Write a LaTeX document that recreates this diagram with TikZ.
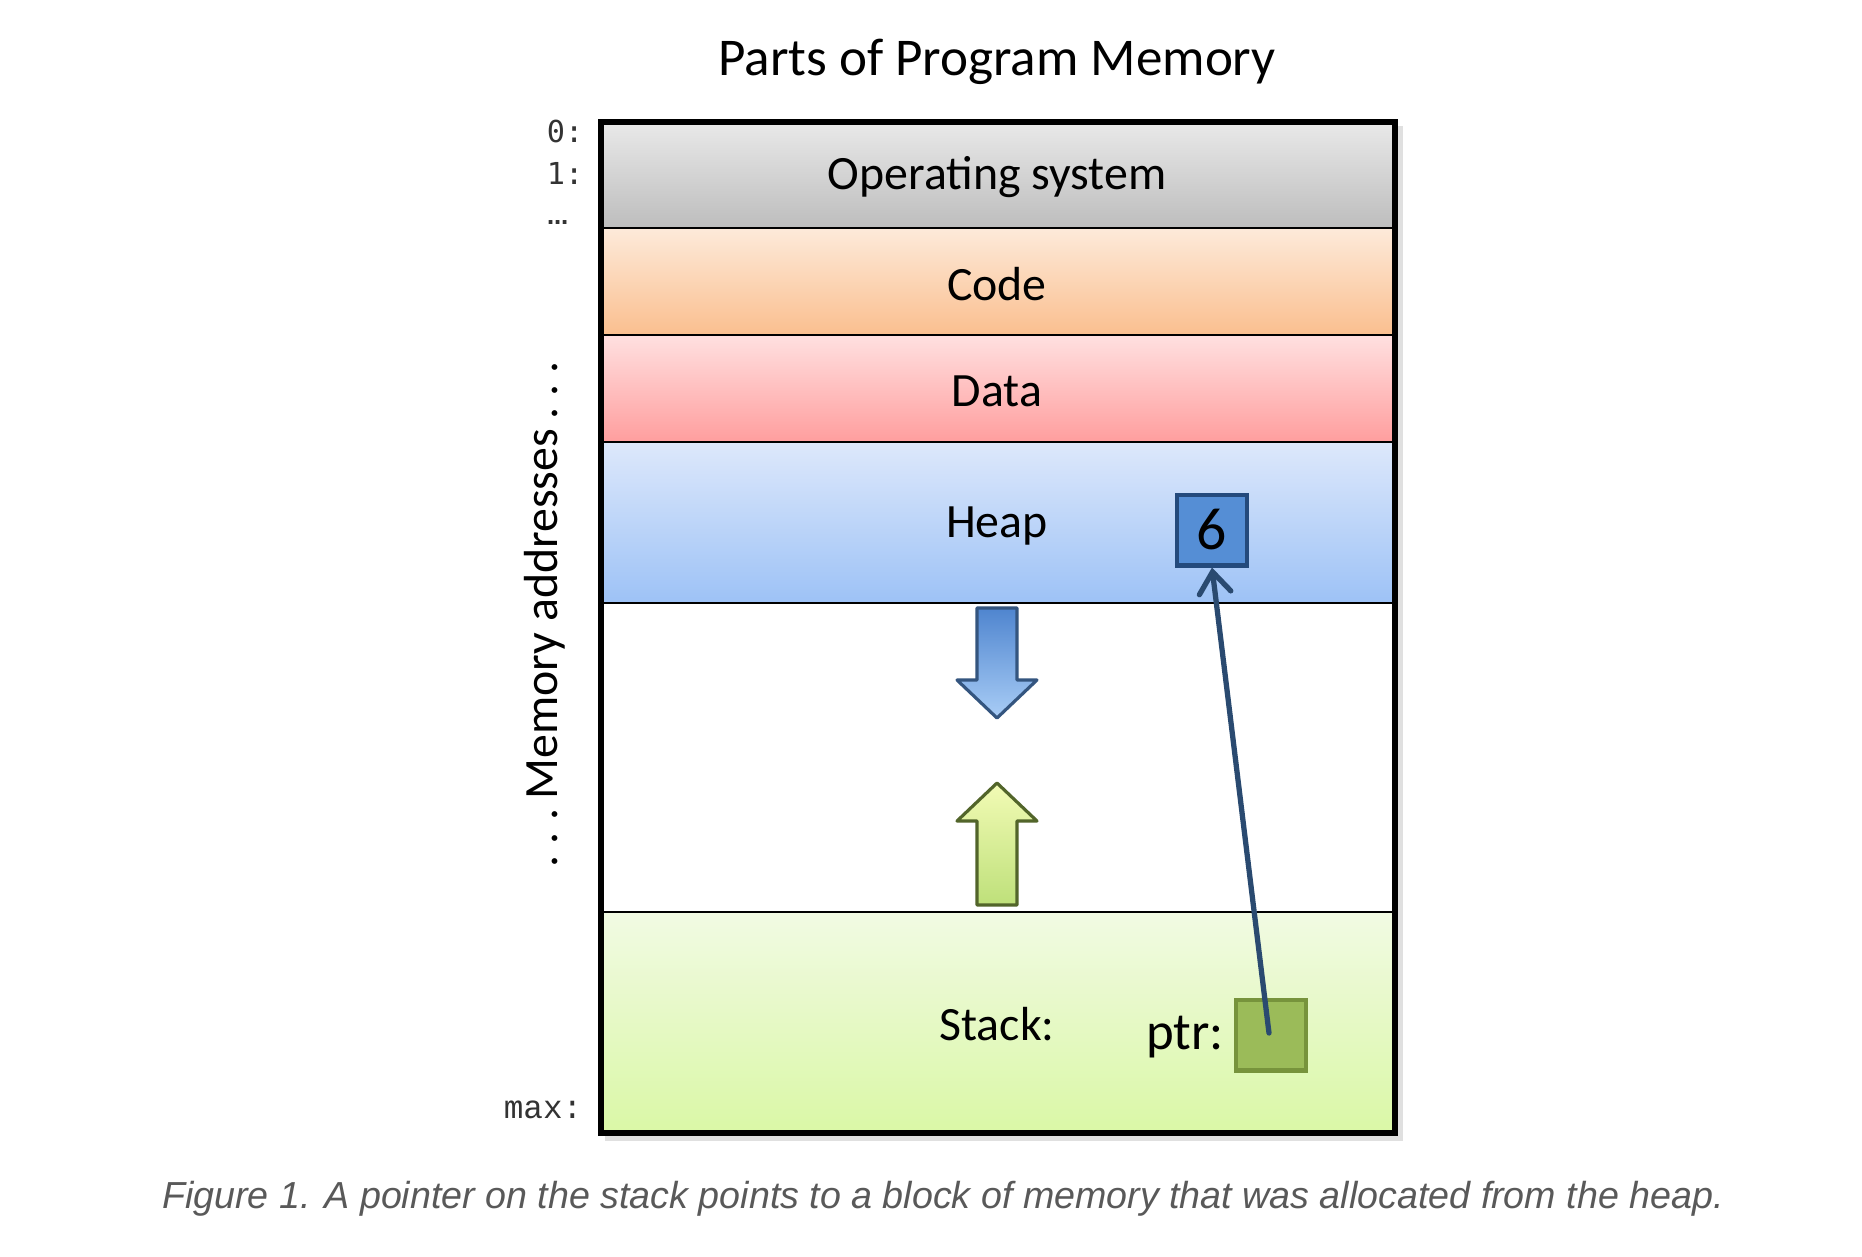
\documentclass[tikz,border=0pt]{standalone}
\usepackage{fontspec}
\setmainfont{Carlito}
\newfontfamily\monofont{Liberation Mono}
\newfontfamily\dvmono{DejaVu Sans Mono}
\newfontfamily\dvsans{DejaVu Sans}
\newfontfamily\capfont{Liberation Sans}
\usetikzlibrary{arrows.meta}
\definecolor{osTop}{HTML}{E9E9E9}
\definecolor{osBot}{HTML}{BDBDBD}
\definecolor{codeTop}{HTML}{FDEADA}
\definecolor{codeBot}{HTML}{FABF8F}
\definecolor{dataTop}{HTML}{FFE0E0}
\definecolor{dataBot}{HTML}{FF9E9E}
\definecolor{heapTop}{HTML}{DDE8FB}
\definecolor{heapBot}{HTML}{9DC2F6}
\definecolor{stackTop}{HTML}{F1FAE3}
\definecolor{stackBot}{HTML}{DAF8A6}
\definecolor{sixFill}{HTML}{558ED5}
\definecolor{sixBorder}{HTML}{244A7C}
\definecolor{ptrFill}{HTML}{9BBB59}
\definecolor{ptrBorder}{HTML}{77933C}
\definecolor{linkCol}{HTML}{2A4A70}
\definecolor{dTop}{HTML}{4F85CF}
\definecolor{dBot}{HTML}{A9CDF6}
\definecolor{dBorder}{HTML}{34557F}
\definecolor{uTop}{HTML}{F2FBB5}
\definecolor{uBot}{HTML}{BEE07A}
\definecolor{uBorder}{HTML}{52652A}
\definecolor{capCol}{HTML}{595959}
\newcommand{\dsp}{\hspace{0.23em}}
\tikzset{
  divider/.style={line width=0.6pt, black},
  seglabel/.style={font=\fontsize{13.6}{16}\selectfont, inner sep=0pt},
  addr/.style={font=\dvmono\fontsize{8.6}{10}\selectfont, inner sep=0pt, text=black!80, anchor=east},
  cell/.style={minimum width=0.70cm, minimum height=0.70cm, inner sep=0pt, line width=1.4pt}
}
\begin{document}
\begin{tikzpicture}[x=0.01cm, y=-0.01cm]
\useasboundingbox (0,0) rectangle (1862,1256);
% title
\node[font=\fontsize{15.1}{18}\selectfont, inner sep=0pt] (title) at (997,62) {Parts of Program Memory};
% segments
\shade[top color=osTop, bottom color=osBot] (601,122) rectangle (1395,228);
\shade[top color=codeTop, bottom color=codeBot] (601,228) rectangle (1395,335);
\shade[top color=dataTop, bottom color=dataBot] (601,335) rectangle (1395,442);
\shade[top color=heapTop, bottom color=heapBot] (601,442) rectangle (1395,603);
\fill[white] (601,603) rectangle (1395,912);
\shade[top color=stackTop, bottom color=stackBot] (601,912) rectangle (1395,1133);
% shadow hint
\draw[black!12, line width=2pt] (605,1137) -- (1399,1137) -- (1399,126);
\draw[divider] (601,228) -- (1395,228);
\draw[divider] (601,335) -- (1395,335);
\draw[divider] (601,442) -- (1395,442);
\draw[divider] (601,603) -- (1395,603);
\draw[divider] (601,912) -- (1395,912);
\draw[line width=1.45pt] (601,122) rectangle (1395,1133);
% labels
\node[seglabel] (os) at (997,177) {Operating system};
\node[seglabel] (code) at (997,284) {Code};
\node[seglabel] (data) at (997,391) {Data};
\node[seglabel] (heap) at (997,526) {Heap};
\node[seglabel] (stack) at (997,1024) {Stack:};
\node[seglabel, font=\fontsize{15}{17}\selectfont] (ptrlab) at (1185,1037) {ptr:};
% address labels
\node[addr] (a0) at (584,131) {0:};
\node[addr] (a1) at (584,173) {1:};
\node[addr, font=\dvsans\bfseries\fontsize{6}{8}\selectfont] (adots) at (569,222) {…};
\node[addr, font=\monofont\fontsize{9.3}{11}\selectfont] (amax) at (583,1110) {max:};
\node[rotate=90, font=\fontsize{13.6}{16}\selectfont, inner sep=0pt] (memaddr) at (545,614) {.\dsp.\dsp.\hspace{0.2em}Memory addresses\hspace{0.2em}.\dsp.\dsp.};
% growth arrows
\shadedraw[top color=dTop, bottom color=dBot, draw=dBorder, line width=0.9pt, line join=round]
  (977,608) -- (1017,608) -- (1017,680) -- (1037,680) -- (997,718) -- (957,680) -- (977,680) -- cycle;
\shadedraw[top color=uTop, bottom color=uBot, draw=uBorder, line width=0.9pt, line join=round]
  (977,905) -- (1017,905) -- (1017,821) -- (1037,821) -- (997,783) -- (957,821) -- (977,821) -- cycle;
% cells
\node[cell, fill=sixFill, draw=sixBorder, font=\fontsize{17}{19}\selectfont] (six) at (1212,530) {6};
\node[cell, fill=ptrFill, draw=ptrBorder] (ptr) at (1271,1035) {};
% pointer
\draw[linkCol, line width=1.5pt, line cap=round, -{Straight Barb[length=6pt, width=9pt, line cap=round]}] (1269,1033) -- (six.south);
% caption
\node[font=\capfont\itshape\fontsize{10.7}{13}\selectfont, text=capCol, inner sep=0pt] (caption) at (943,1199) {Figure 1. A pointer on the stack points to a block of memory that was allocated from the heap.};
\end{tikzpicture}
\end{document}
